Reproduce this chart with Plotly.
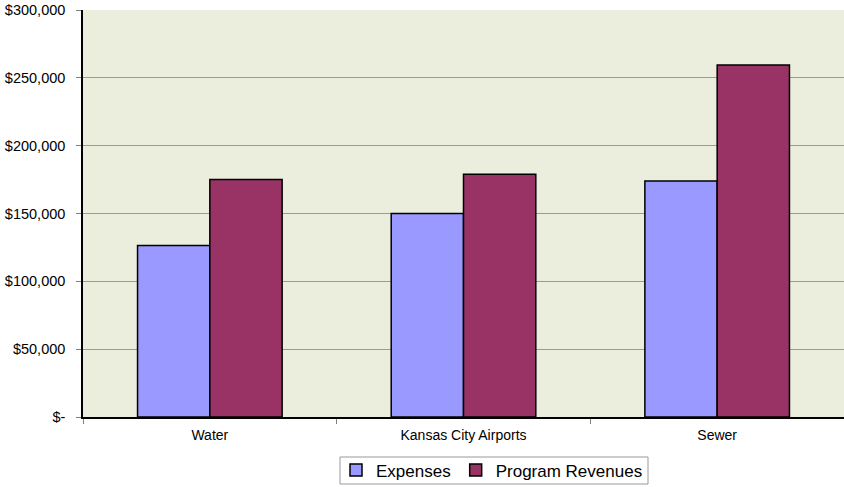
import plotly.graph_objects as go

categories = ["Water", "Kansas City Airports", "Sewer"]
expenses = [126500, 150000, 174000]
program_revenues = [175000, 179000, 259500]
y_tick_vals = [0, 50000, 100000, 150000, 200000, 250000, 300000]
y_tick_text = ["$-", "$50,000", "$100,000", "$150,000", "$200,000", "$250,000", "$300,000"]

W, H = 844, 487
ML, MR, MT, MB = 83, 0, 10, 70
PW, PH = W - ML - MR, H - MT - MB


def px_to_paper_x(px):
    return (px - ML) / PW


def px_to_paper_y(py):
    return (H - MB - py) / PH


fig = go.Figure()
fig.add_trace(go.Bar(name="Expenses", x=categories, y=expenses,
                     marker=dict(color="#9999FF", line=dict(color="#000000", width=1.5))))
fig.add_trace(go.Bar(name="Program Revenues", x=categories, y=program_revenues,
                     marker=dict(color="#993366", line=dict(color="#000000", width=1.5))))

# legend frame
fig.add_shape(type="rect", xref="paper", yref="paper",
              x0=px_to_paper_x(340), x1=px_to_paper_x(648),
              y0=px_to_paper_y(484), y1=px_to_paper_y(457),
              line=dict(color="#999999", width=1), fillcolor="white", layer="below")

fig.update_layout(
    width=W, height=H,
    margin=dict(l=ML, r=MR, t=MT, b=MB),
    paper_bgcolor="white",
    plot_bgcolor="#EBEEDD",
    barmode="group", bargap=0.43, bargroupgap=0,
    font=dict(family="Liberation Sans, Arial, sans-serif", color="#000000"),
    showlegend=True,
    legend=dict(orientation="h", xref="container", yref="container",
                x=492 / W, xanchor="center", y=(H - 470.5) / H, yanchor="middle",
                borderwidth=0, bgcolor="rgba(0,0,0,0)",
                font=dict(size=17), itemwidth=30, traceorder="normal"),
)
fig.update_yaxes(range=[0, 300000], tickvals=y_tick_vals, ticktext=y_tick_text,
                 showgrid=True, gridcolor="#9A9C90", gridwidth=1,
                 showline=True, linecolor="#000000", linewidth=1.5,
                 ticks="outside", ticklen=5, tickcolor="#808080",
                 ticklabelstandoff=8, tickfont=dict(size=14.5), zeroline=False)
fig.update_xaxes(showline=True, linecolor="#000000", linewidth=1.5,
                 ticks="outside", tickson="boundaries", ticklen=5, tickcolor="#808080",
                 ticklabelstandoff=4, tickfont=dict(size=14), showgrid=False)

fig.write_html("out.html")
